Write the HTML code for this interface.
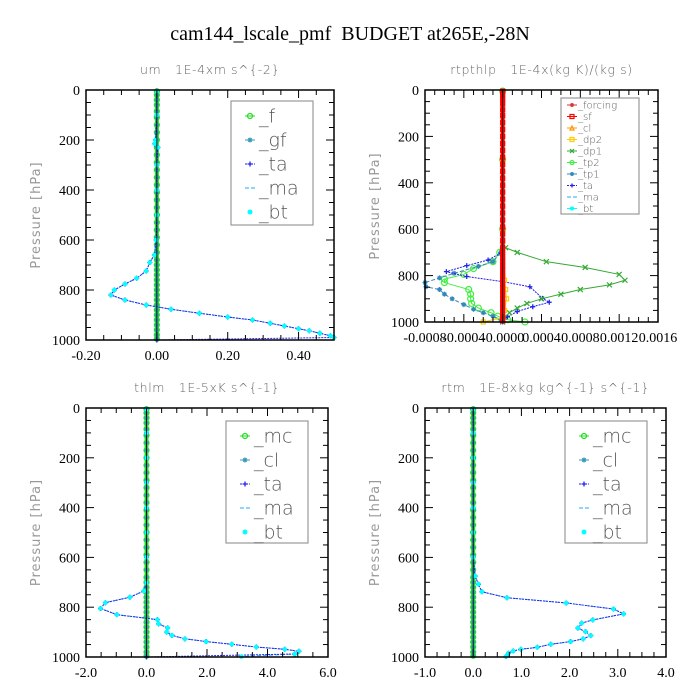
<!DOCTYPE html>
<html><head><meta charset="utf-8"><style>
body{margin:0;background:#fff;width:700px;height:700px;overflow:hidden}
svg{display:block}
text{white-space:pre}
.tk{font-family:"Liberation Serif",serif;font-size:14px;fill:#000}
.pt{font-family:"DejaVu Sans","Liberation Sans",sans-serif;font-size:12.5px;fill:#666;letter-spacing:0.6px;font-weight:200}
.yl{font-family:"DejaVu Sans","Liberation Sans",sans-serif;font-size:13px;fill:#999;letter-spacing:1px}
</style></head><body>
<svg id="fig" width="700" height="700" xmlns="http://www.w3.org/2000/svg">
<text x="350" y="40" text-anchor="middle" font-family="Liberation Serif, serif" font-size="20">cam144_lscale_pmf  BUDGET at265E,-28N</text>
</svg>
<script>
// ---- shared pressure levels (hPa) for near-zero profiles ----
const levels=[5,20,40,60,85,110,140,170,200,230,260,290,320,350,380,410,440,470,500,530,560,590,620,650,680,700,720,740,760,780,800,820,840,860,880,900,920,940,960,980,995];
const zeros=[0,0,0,0,0,0,0,0,0,0,0,0,0,0,0,0,0,0,0,0,0,0,0,0,0,0,0,0,0,0,0,0,0,0,0,0,0,0,0,0,0];

// ---- panel 1: um ----
const umP=[5,100,200,215,230,300,400,500,600,660,690,724,753,776,800,820,840,860,877,893,908,920,933,944,955,963,973,983,990];
const umBt=[0,0,-0.004,-0.006,0.003,0,0,0,-0.002,-0.007,-0.02,-0.03,-0.057,-0.09,-0.12,-0.13,-0.09,-0.03,0.04,0.12,0.2,0.27,0.32,0.36,0.4,0.43,0.46,0.49,0.5];
const umTaP=[5,100,200,215,230,300,400,500,600,660,690,724,753,776,800,820,840,860,877,893,908,920,933,944,955,963,973,983,990,1000];
const umTa=[0,0,-0.004,-0.006,0.003,0,0,0,-0.002,-0.007,-0.02,-0.03,-0.057,-0.09,-0.12,-0.13,-0.09,-0.03,0.04,0.12,0.2,0.27,0.32,0.36,0.4,0.43,0.46,0.49,0.5,0];
const umXTicks=[-0.2,0,0.2,0.4];
const umXLabels=["-0.20","0.00","0.20","0.40"];

// ---- panel 2: rtpthlp ----
const rtTaP=[5,300,600,680,703,733,757,783,804,826,848,898,915,934,955,977,999];
const rtTa=[0,0,0,0,-0.00002,-0.00015,-0.00037,-0.00058,-0.00037,0,0.00028,0.00041,0.00048,0.00031,0.00015,0.00005,0];
const rtTp1P=[5,300,600,700,740,760,790,810,830,848,860,880,900,925,945,960,975,990,1000];
const rtTp1=[0,0,0,-0.00002,-0.0001,-0.00025,-0.0005,-0.00065,-0.0008,-0.00079,-0.00065,-0.0006,-0.00052,-0.0004,-0.0003,-0.0002,-0.0001,-0.00002,0];
const rtTp2P=[5,300,600,700,740,770,795,815,830,860,880,900,920,940,960,975,990,1000];
const rtTp2=[0,0,0,-0.00003,-0.0001,-0.0003,-0.0004,-0.0006,-0.0006,-0.00035,-0.00033,-0.00033,-0.00032,-0.00025,-0.00012,-0.00005,0.00005,0.00023];
const rtDp1P=[5,300,600,650,680,700,740,765,795,820,840,860,880,900,920,940,960,980,1000];
const rtDp1=[0,0,0,0,0.00003,0.00015,0.00045,0.00085,0.0012,0.00126,0.0011,0.0008,0.0006,0.0004,0.00025,0.00015,0.00007,0.00002,0];
const rtClP=[5,300,600,800,820,860,900,950,980,1000];
const rtCl=[0,0,0,0,0.00002,0.00003,0.00004,0.00002,0,-0.0002];
const rtXTicks=[-0.0008,-0.0004,0,0.0004,0.0008,0.0012,0.0016];
const rtXLabels=["-0.0008","-0.0004","-0.0000","0.0004","0.0008","0.0012","0.0016"];

// ---- panel 3: thlm ----
const thP=[5,100,200,300,400,500,600,702,735,760,782,805,830,850,867,883,900,913,927,938,949,960,969,977,988,998];
const thBt=[0,0,0,0,0,0,0,0,-0.09,-0.55,-1.36,-1.52,-0.98,0.36,0.4,0.7,0.67,0.84,1.27,1.97,2.82,3.63,4.57,5.04,4.9,3.14];
const thTaP=[5,100,200,300,400,500,600,702,735,760,782,805,830,850,867,883,900,913,927,938,949,960,969,977,988,1000];
const thTa=[0,0,0,0,0,0,0,0,-0.09,-0.55,-1.36,-1.52,-0.98,0.36,0.4,0.7,0.67,0.84,1.27,1.97,2.82,3.63,4.57,5.04,4.9,0];
const thXTicks=[-2,0,2,4,6];
const thXLabels=["-2.0","0.0","2.0","4.0","6.0"];

// ---- panel 4: rtm ----
const rmP=[5,100,200,300,400,500,600,675,708,738,762,783,807,827,851,864,884,898,914,927,938,949,961,969,976,985,998];
const rmBt=[0,0,0,0,0,0,0,0.04,0.11,0.18,0.7,1.93,2.91,3.12,2.48,2.25,2.17,2.33,2.44,2.28,2.02,1.61,1.33,0.99,0.83,0.73,0.68];
const rmXTicks=[-1,0,1,2,3,4];
const rmXLabels=["-1.0","0.0","1.0","2.0","3.0","4.0"];

const yTicks=[0,200,400,600,800,1000];
const yLabels=["0","200","400","600","800","1000"];

const NS="http://www.w3.org/2000/svg";
const fig=document.getElementById('fig');
function mk(tag,attrs,parent){const e=document.createElementNS(NS,tag);for(const k in attrs)e.setAttribute(k,attrs[k]);(parent||fig).appendChild(e);return e;}

function marker(g,type,x,y,color,s){
  if(type==='circle'){return mk('circle',{cx:x,cy:y,r:s,fill:'none',stroke:color,'stroke-width':1.2},g);}
  if(type==='dot'){return mk('circle',{cx:x,cy:y,r:s,fill:color},g);}
  if(type==='plus'){return mk('path',{d:`M${x-s},${y}H${x+s}M${x},${y-s}V${y+s}`,stroke:color,'stroke-width':1.3,fill:'none'},g);}
  if(type==='star'){return mk('path',{d:`M${x-s},${y}H${x+s}M${x},${y-s}V${y+s}M${x-s*.7},${y-s*.7}L${x+s*.7},${y+s*.7}M${x-s*.7},${y+s*.7}L${x+s*.7},${y-s*.7}`,stroke:color,'stroke-width':1.2,fill:'none'},g);}
  if(type==='x'){return mk('path',{d:`M${x-s},${y-s}L${x+s},${y+s}M${x-s},${y+s}L${x+s},${y-s}`,stroke:color,'stroke-width':1.2,fill:'none'},g);}
  if(type==='square'){return mk('rect',{x:x-s,y:y-s,width:2*s,height:2*s,fill:'none',stroke:color,'stroke-width':1.2},g);}
  if(type==='tri'){return mk('path',{d:`M${x},${y-s}L${x+s},${y+s}L${x-s},${y+s}Z`,stroke:color,'stroke-width':1.2,fill:'none'},g);}
  if(type==='dash'){return mk('path',{d:`M${x-s},${y}H${x+s}`,stroke:color,'stroke-width':1.5},g);}
}

function panel(cfg){
  const g=mk('g',{});
  
  
  const X=v=>cfg.x0+(v-cfg.xmin)/(cfg.xmax-cfg.xmin)*(cfg.x1-cfg.x0);
  const Y=p=>cfg.y0+p/1000*(cfg.y1-cfg.y0);
  const t=mk('text',{x:(cfg.x0+cfg.x1)/2,y:cfg.y0-16,'text-anchor':'middle',class:'pt'},g);
  t.textContent=cfg.title;
  
  
  const yl=mk('text',{x:0,y:0,'text-anchor':'middle',class:'yl',transform:`translate(${cfg.x0-46},${(cfg.y0+cfg.y1)/2}) rotate(-90)`},g);
  yl.textContent='Pressure [hPa]';
  
  
  cfg.series.forEach(s=>{
    const sg=mk('g',{},g);
    
    
    const pts=s.p.map((p,i)=>[X(s.v[i]),Y(p)]);
    const ln=mk('polyline',{points:pts.map(q=>q.join(',')).join(' '),fill:'none',stroke:s.lc||s.color,'stroke-width':s.lw||1,'stroke-dasharray':s.dash||'none'},sg);
    
    
    if(s.m) pts.forEach(q=>{const m=marker(sg,s.m,q[0],q[1],s.color,s.ms||2.5);
      
      });
  });
  mk('line',{x1:X(0),x2:X(0),y1:cfg.y0,y2:cfg.y1,stroke:'#000','stroke-width':0.8},g);
  const fr=mk('rect',{x:cfg.x0,y:cfg.y0,width:cfg.x1-cfg.x0,height:cfg.y1-cfg.y0,fill:'none',stroke:'#000','stroke-width':1.5},g);
  
  
  for(let p=0;p<=1000;p+=50){
    const L=(p%200===0)?8:5;
    mk('line',{x1:cfg.x0,x2:cfg.x0+L,y1:Y(p),y2:Y(p),stroke:'#000','stroke-width':1},g);
    mk('line',{x1:cfg.x1,x2:cfg.x1-L,y1:Y(p),y2:Y(p),stroke:'#000','stroke-width':1},g);
  }
  yTicks.forEach((p,i)=>{const tt=mk('text',{x:cfg.x0-6,y:Y(p)+5,'text-anchor':'end',class:'tk'},g);tt.textContent=yLabels[i];
    
    });
  const step=cfg.xTicks[1]-cfg.xTicks[0];
  for(let k=0;;k++){const v=cfg.xTicks[0]+k*step/cfg.minor; if(v>cfg.xmax+1e-12)break;
    const maj=(k%cfg.minor===0);const L=maj?8:5;
    mk('line',{x1:X(v),x2:X(v),y1:cfg.y1,y2:cfg.y1-L,stroke:'#000','stroke-width':1},g);
    mk('line',{x1:X(v),x2:X(v),y1:cfg.y0,y2:cfg.y0+L,stroke:'#000','stroke-width':1},g);}
  cfg.xTicks.forEach((v,i)=>{const tt=mk('text',{x:X(v),y:cfg.y1+20,'text-anchor':'middle',class:'tk',style:cfg.xfs?('font-size:'+cfg.xfs+'px'):''},g);tt.textContent=cfg.xLabels[i];
    
    });
  const lg=mk('g',{},g);
  
  
  const L=cfg.legend;
  mk('rect',{x:L.x,y:L.y,width:L.w,height:L.h,fill:'#fff',stroke:'#999','stroke-width':1.2},lg);
  cfg.series.slice().sort((a,b)=>a.order-b.order).forEach((s,i)=>{
    const yy=L.y+L.first+i*L.dy;
    const e=mk('g',{},lg);
    
    
    mk('line',{x1:L.x+L.mx-5,x2:L.x+L.mx+5,y1:yy,y2:yy,stroke:s.lc||s.color,'stroke-width':1,'stroke-dasharray':s.dash||'none'},e);
    if(s.m)marker(e,s.m,L.x+L.mx,yy,s.color,L.ms);
    const tx=mk('text',{x:L.x+L.tx,y:yy+L.fs*0.35,'font-family':'DejaVu Sans, Liberation Sans, sans-serif','font-size':L.fs,fill:'#555','font-weight':200},e);
    tx.textContent=s.label;
  });
}

const big={first:15,dy:24,mx:19,tx:28,fs:19,ms:2.5};
panel({name:'um-panel',title:'um   1E-4xm s^{-2}',x0:86,x1:334,y0:90,y1:340,xmin:-0.2,xmax:0.5,xTicks:umXTicks,xLabels:umXLabels,minor:4,
  legend:Object.assign({x:231,y:101,w:82,h:124},big),
  series:[
    {label:'_f',order:0,p:levels,v:zeros,color:'#22dd22',m:'circle',lw:4,ms:2.5},
    {label:'_gf',order:1,p:levels,v:zeros,color:'#3399bb',m:'star',ms:2},
    {label:'_ma',order:3,p:umP,v:umBt,color:'#22aaff',dash:'4,2'},
    {label:'_ta',order:2,p:umTaP,v:umTa,color:'#2222ee',lc:'#2222ee',dash:'2,1',m:'plus',ms:2.5},
    {label:'_bt',order:4,p:umP,v:umBt,color:'#00ffff',lc:'none',m:'dot',ms:2.3}
  ]});
panel({name:'rtpthlp-panel',title:'rtpthlp   1E-4x(kg K)/(kg s)',x0:425,x1:658,y0:90,y1:322,xmin:-0.0008,xmax:0.0016,xTicks:rtXTicks,xLabels:rtXLabels,minor:4,xfs:14,
  legend:{x:561,y:98,w:78,h:116,first:7,dy:11.5,mx:11,tx:17,fs:10,ms:2},
  series:[
    {label:'_tp2',order:5,p:rtTp2P,v:rtTp2,color:'#44ee44',m:'circle',ms:3},
    {label:'_tp1',order:6,p:rtTp1P,v:rtTp1,color:'#3388bb',dash:'4,2',m:'star',ms:2.5},
    {label:'_ta',order:7,p:rtTaP,v:rtTa,color:'#2222ee',dash:'2,1',m:'plus',ms:2.5},
    {label:'_dp1',order:4,p:rtDp1P,v:rtDp1,color:'#33aa33',m:'x',ms:2.5},
    {label:'_dp2',order:3,p:rtClP,v:rtCl,color:'#ffcc00',m:'square',ms:2},
    {label:'_cl',order:2,p:levels,v:zeros,color:'#ff9900',m:'tri',ms:2},
    {label:'_ma',order:8,p:levels,v:zeros,color:'#22aaff',dash:'4,2'},
    {label:'_bt',order:9,p:levels,v:zeros,color:'#00ffff',m:'dot',ms:2},
    {label:'_forcing',order:0,p:levels,v:zeros,color:'#dd3333',m:'star',ms:2.5},
    {label:'_sf',order:1,p:levels,v:zeros,color:'#ff0000',m:'square',lw:4,ms:2}
  ]});
panel({name:'thlm-panel',title:'thlm   1E-5xK s^{-1}',x0:86,x1:328,y0:408,y1:657,xmin:-2,xmax:6,xTicks:thXTicks,xLabels:thXLabels,minor:4,
  legend:Object.assign({x:226,y:421,w:82,h:122},big),
  series:[
    {label:'_mc',order:0,p:levels,v:zeros,color:'#22dd22',m:'circle',lw:4,ms:2.5},
    {label:'_cl',order:1,p:levels,v:zeros,color:'#3399bb',m:'star',ms:2},
    {label:'_ma',order:3,p:thP,v:thBt,color:'#22aaff',dash:'4,2'},
    {label:'_ta',order:2,p:thTaP,v:thTa,color:'#2222ee',dash:'2,1',m:'plus',ms:2.5},
    {label:'_bt',order:4,p:thP,v:thBt,color:'#00ffff',lc:'none',m:'dot',ms:2.3}
  ]});
panel({name:'rtm-panel',title:'rtm   1E-8xkg kg^{-1} s^{-1}',x0:425,x1:666,y0:408,y1:657,xmin:-1,xmax:4,xTicks:rmXTicks,xLabels:rmXLabels,minor:4,
  legend:Object.assign({x:565,y:421,w:82,h:122},big),
  series:[
    {label:'_mc',order:0,p:levels,v:zeros,color:'#22dd22',m:'circle',lw:4,ms:2.5},
    {label:'_cl',order:1,p:levels,v:zeros,color:'#3399bb',m:'star',ms:2},
    {label:'_ma',order:3,p:rmP,v:rmBt,color:'#22aaff',dash:'4,2'},
    {label:'_ta',order:2,p:rmP,v:rmBt,color:'#2222ee',dash:'2,1',m:'plus',ms:2.5},
    {label:'_bt',order:4,p:rmP,v:rmBt,color:'#00ffff',lc:'none',m:'dot',ms:2.3}
  ]});
</script>
</body></html>
